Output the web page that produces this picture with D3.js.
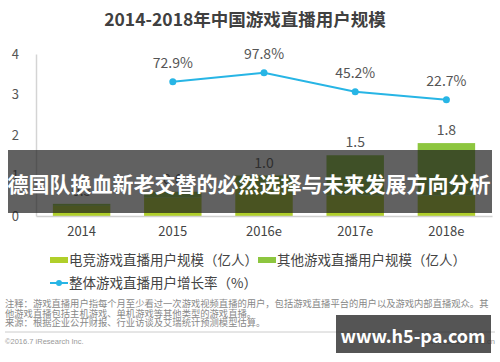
<!DOCTYPE html>
<html><head><meta charset="utf-8">
<script src="https://cdn.jsdelivr.net/npm/d3@7"></script>
<style>
html,body{margin:0;padding:0;background:#fff;}
svg{display:block;font-family:"Noto Sans CJK SC","Noto Sans",sans-serif;}
</style></head>
<body><svg id="c" width="500" height="362"></svg>
<script>
const categories = ["2014", "2015", "2016e", "2017e", "2018e"];
const esportsUsers = [0.25, 0.45, 0.7, 0.5, 0.5];
const otherUsers = [0.05, 0.15, 0.3, 1.0, 1.3];
const totalLabels = ["0.3", "0.6", "1.0", "1.5", "1.8"];
const growthCats = ["2015", "2016e", "2017e", "2018e"];
const growthRate = [72.9, 97.8, 45.2, 22.7];
const yTicks = [0, 1, 2, 3, 4];
const title = "2014-2018年中国游戏直播用户规模";
const legendLabels = ["电竞游戏直播用户规模（亿人）", "其他游戏直播用户规模（亿人）", "整体游戏直播用户增长率（%）"];
const notes = [
  "注释：游戏直播用户指每个月至少看过一次游戏视频直播的用户，包括游戏直播平台的用户以及游戏内部直播观众。其",
  "他游戏直播包括主机游戏、单机游戏等其他类型的游戏直播。",
  "来源：根据企业公开财报、行业访谈及艾瑞统计预测模型估算。"
];
const bannerText = "德国队换血新老交替的必然选择与未来发展方向分析";
const watermark = "www.h5-pa.com";

const svg = d3.select("#c");
const C_ESP = "#b0cf2a", C_OTH = "#8dc63f", C_LINE = "#27b5e5";

const x = d3.scaleBand().domain(categories).range([36, 492]).paddingInner(0.37).paddingOuter(0.185);
const y = d3.scaleLinear().domain([0, 4]).range([216, 54]);
const yl = d3.scaleLinear().domain([0, 100]).range([108, 72]);

// title
svg.append("text").attr("x", 245).attr("y", 26).attr("text-anchor", "middle")
  .attr("font-size", 17.5).attr("font-weight", "bold").attr("fill", "#404040").text(title);

// y axis
const ya = svg.append("g").attr("transform", "translate(36,0)")
  .call(d3.axisLeft(y).tickValues(yTicks).tickSize(0).tickPadding(17).tickFormat(d3.format("d")));
ya.select(".domain").attr("stroke", "#d4d4d4").attr("stroke-width", 1.5);
ya.selectAll("text").attr("font-size", 13).attr("fill", "#555").attr("font-family", "Noto Sans CJK SC");

// bars
const stack = categories.map((c, i) => ({c, e: esportsUsers[i], o: otherUsers[i]}));
const g = svg.append("g");
g.selectAll(".be").data(stack).join("rect")
  .attr("x", d => x(d.c)).attr("width", x.bandwidth())
  .attr("y", d => y(d.e)).attr("height", d => y(0) - y(d.e)).attr("fill", C_ESP);
g.selectAll(".bo").data(stack).join("rect")
  .attr("x", d => x(d.c)).attr("width", x.bandwidth())
  .attr("y", d => y(d.e + d.o)).attr("height", d => y(d.e) - y(d.e + d.o)).attr("fill", C_OTH);
g.selectAll(".bl").data(stack).join("text")
  .attr("x", d => x(d.c) + x.bandwidth() / 2).attr("y", d => y(d.e + d.o) - 8)
  .attr("text-anchor", "middle").attr("font-size", 14).attr("fill", "#555")
  .text((d, i) => totalLabels[i]);

// x axis
const xa = svg.append("g").attr("transform", "translate(0,216)")
  .call(d3.axisBottom(x).tickSize(0).tickPadding(11));
xa.select(".domain").attr("stroke", "#d0d0d0").attr("stroke-width", 1.5);
xa.selectAll("text").attr("font-size", 13).attr("fill", "#444").attr("font-family", "Noto Sans CJK SC");

// line
const pts = growthCats.map((c, i) => ({c, v: growthRate[i]}));
const cx = d => x(d.c) + x.bandwidth() / 2;
svg.append("path").datum(pts).attr("fill", "none").attr("stroke", C_LINE).attr("stroke-width", 2)
  .attr("d", d3.line().x(cx).y(d => yl(d.v)));
svg.selectAll(".pt").data(pts).join("circle").attr("cx", cx).attr("cy", d => yl(d.v))
  .attr("r", 3.5).attr("fill", C_LINE);
svg.selectAll(".pl").data(pts).join("text").attr("x", cx).attr("y", d => yl(d.v) - 14)
  .attr("text-anchor", "middle").attr("font-size", 14).attr("fill", "#555")
  .text(d => d.v.toFixed(1) + "%");

// legend
const lg = svg.append("g").attr("font-size", 13.5).attr("fill", "#444");
lg.append("rect").attr("x", 50).attr("y", 257).attr("width", 18).attr("height", 6).attr("fill", C_ESP);
lg.append("text").attr("x", 69).attr("y", 265).text(legendLabels[0]);
lg.append("rect").attr("x", 258).attr("y", 257).attr("width", 18).attr("height", 6).attr("fill", C_OTH);
lg.append("text").attr("x", 277).attr("y", 265).text(legendLabels[1]);
lg.append("line").attr("x1", 50).attr("x2", 68).attr("y1", 283).attr("y2", 283).attr("stroke", C_LINE).attr("stroke-width", 2);
lg.append("circle").attr("cx", 59).attr("cy", 283).attr("r", 3).attr("fill", C_LINE);
lg.append("text").attr("x", 69).attr("y", 288).text(legendLabels[2]);

// notes
const ng = svg.append("g").attr("font-size", 9.3).attr("fill", "#888");
notes.forEach((t, i) => ng.append("text").attr("x", 5).attr("y", 307 + i * 9.7).text(t));
svg.append("line").attr("x1", 5).attr("x2", 495).attr("y1", 332).attr("y2", 332).attr("stroke", "#ccc").attr("stroke-width", 1);
svg.append("text").attr("x", 5).attr("y", 344).attr("font-size", 7.5).attr("fill", "#999")
  .attr("font-family", "Liberation Sans").text("©2016.7 iResearch Inc.");
svg.append("text").attr("x", 495).attr("y", 344).attr("font-size", 7.5).attr("fill", "#999")
  .attr("text-anchor", "end").attr("font-family", "Liberation Sans").text("www.iresearch.com.cn");

// banner overlay
svg.append("rect").attr("x", 8).attr("y", 150).attr("width", 484).attr("height", 63)
  .attr("fill", "#1e1e1e").attr("fill-opacity", 0.7);
svg.append("text").attr("x", 249).attr("y", 192).attr("text-anchor", "middle")
  .attr("font-size", 21).attr("font-weight", "bold").attr("fill", "#fff").text(bannerText);

// watermark
svg.append("rect").attr("x", 336).attr("y", 315).attr("width", 155).attr("height", 38)
  .attr("fill", "#2a2a2a").attr("fill-opacity", 0.8);
svg.append("text").attr("x", 413).attr("y", 343).attr("text-anchor", "middle")
  .attr("font-size", 18).attr("font-weight", "bold").attr("fill", "#fff").text(watermark);
</script></body></html>
